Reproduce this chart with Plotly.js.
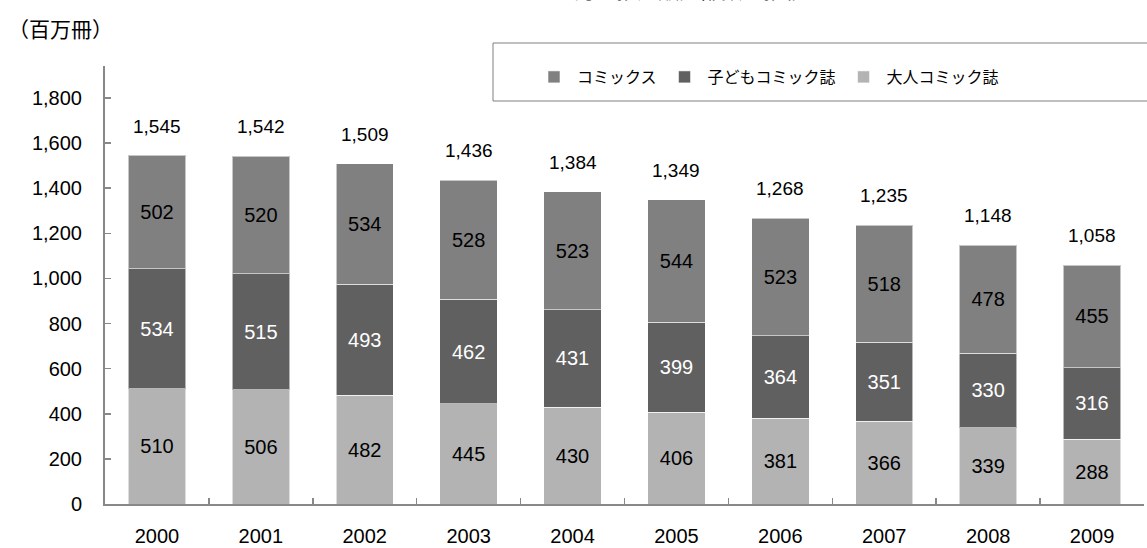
<!DOCTYPE html>
<html>
<head>
<meta charset="utf-8">
<script src="https://cdn.plot.ly/plotly-3.0.1.min.js"></script>
<style>html,body{margin:0;padding:0;background:#fff;}#chart{width:1147px;height:548px;}</style>
</head>
<body>
<div id="chart"></div>
<script>
const years = ['2000','2001','2002','2003','2004','2005','2006','2007','2008','2009'];
const adultMagazines = [510, 506, 482, 445, 430, 406, 381, 366, 339, 288];
const kidsMagazines = [534, 515, 493, 462, 431, 399, 364, 351, 330, 316];
const comics = [502, 520, 534, 528, 523, 544, 523, 518, 478, 455];
const totals = [1545, 1542, 1509, 1436, 1384, 1349, 1268, 1235, 1148, 1058];
const seriesNames = ['大人コミック誌', '子どもコミック誌', 'コミックス'];
const titleText = 'コミックス・コミック誌の推定販売部数の推移';
const unitLabel = '（百万冊）';

const latin = 'Liberation Sans, Arial, Noto Sans CJK JP, sans-serif';
const jp = 'Noto Sans CJK JP, sans-serif';

function barTrace(name, values, color, textColor) {
  return {
    type: 'bar', name: name, x: years, y: values,
    text: values.map(String), textposition: 'inside', insidetextanchor: 'middle',
    textfont: {family: latin, size: 20, color: textColor},
    marker: {color: color, line: {color: 'rgba(255,255,255,0.55)', width: 1}},
    hoverinfo: 'skip', constraintext: 'none'
  };
}

const data = [
  barTrace(seriesNames[0], adultMagazines, '#b3b3b3', '#000000'),
  barTrace(seriesNames[1], kidsMagazines, '#606060', '#ffffff'),
  barTrace(seriesNames[2], comics, '#808080', '#000000')
];

const annotations = years.map((yr, i) => ({
  x: i, y: totals[i], xref: 'x', yref: 'y',
  text: totals[i].toLocaleString('en-US'), showarrow: false,
  yanchor: 'bottom', yshift: 17,
  font: {family: latin, size: 19, color: '#000'}
}));
annotations.push({
  xref: 'paper', yref: 'paper', x: (6 - 105) / 1039, y: 1, xanchor: 'left', yanchor: 'middle',
  yshift: 38, text: unitLabel, showarrow: false,
  font: {family: jp, size: 21, color: '#000'}
});
annotations.push({
  xref: 'paper', yref: 'paper', x: (585 - 105) / 1039, y: 1, xanchor: 'center', yanchor: 'bottom',
  yshift: 60, text: titleText, showarrow: false,
  font: {family: jp, size: 21, color: '#000'}
});

const layout = {
  width: 1147, height: 548,
  margin: {l: 105, r: 3, t: 66, b: 44, pad: 0},
  paper_bgcolor: '#fff', plot_bgcolor: '#fff',
  barmode: 'stack', bargap: 0.448,
  showlegend: true,
  legend: {
    orientation: 'h', traceorder: 'reversed', itemwidth: 36,
    x: (531 - 105) / 1039, xanchor: 'left', y: (504 - 77) / 438, yanchor: 'middle',
    bgcolor: 'rgba(0,0,0,0)', borderwidth: 0,
    font: {family: jp, size: 16, color: '#000'}
  },
  xaxis: {
    type: 'category', range: [-0.5, 9.5], showgrid: false, zeroline: false,
    showline: true, linecolor: '#888888', linewidth: 2,
    ticks: 'inside', tickson: 'boundaries', ticklen: 6, tickwidth: 1.5, tickcolor: '#888888',
    ticklabelstandoff: 13,
    tickfont: {family: latin, size: 20, color: '#000'}
  },
  yaxis: {
    range: [0, 1942], tickvals: [0,200,400,600,800,1000,1200,1400,1600,1800],
    ticktext: ['0','200','400','600','800','1,000','1,200','1,400','1,600','1,800'],
    showgrid: false, zeroline: false,
    showline: true, linecolor: '#888888', linewidth: 2,
    ticks: 'inside', ticklen: 6, tickwidth: 1.5, tickcolor: '#888888',
    ticklabelstandoff: 17,
    tickfont: {family: latin, size: 20, color: '#000'}
  },
  shapes: [{
    type: 'rect', xref: 'paper', yref: 'paper',
    x0: (493 - 105) / 1039, x1: (1152 - 105) / 1039,
    y0: (504 - 101) / 438, y1: (504 - 43) / 438,
    line: {color: '#808080', width: 1}, fillcolor: 'rgba(0,0,0,0)', layer: 'below'
  }],
  annotations: annotations
};

Plotly.newPlot('chart', data, layout, {displayModeBar: false, staticPlot: true});
</script>
</body>
</html>
